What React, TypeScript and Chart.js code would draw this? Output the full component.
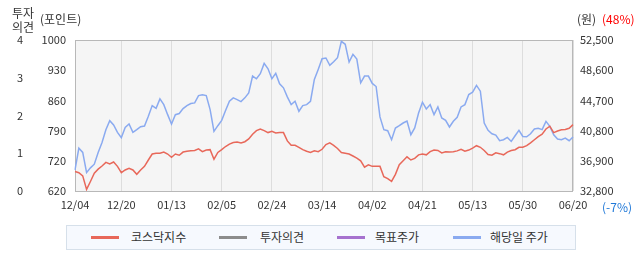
import React, { useEffect, useRef } from "react";
import { Chart, registerables } from "chart.js";

Chart.register(...registerables);

const dates = [
  "12/04","12/05","12/06","12/09","12/10","12/11","12/12","12/13","12/16","12/17","12/18","12/19","12/20",
  "12/23","12/24","12/26","12/27","12/30","01/02","01/03","01/06","01/07","01/08","01/09","01/10","01/13",
  "01/14","01/15","01/16","01/17","01/20","01/21","01/22","01/23","01/24","01/31","02/03","02/04","02/05",
  "02/06","02/07","02/10","02/11","02/12","02/13","02/14","02/17","02/18","02/19","02/20","02/21","02/24",
  "02/25","02/26","02/27","02/28","03/04","03/05","03/06","03/07","03/10","03/11","03/12","03/13","03/14",
  "03/17","03/18","03/19","03/20","03/21","03/24","03/25","03/26","03/27","03/28","03/31","04/01","04/02",
  "04/03","04/04","04/07","04/08","04/09","04/10","04/11","04/14","04/15","04/16","04/17","04/18","04/21",
  "04/22","04/23","04/24","04/25","04/28","04/29","04/30","05/02","05/07","05/08","05/09","05/12","05/13",
  "05/14","05/15","05/16","05/19","05/20","05/21","05/22","05/23","05/26","05/27","05/28","05/29","05/30",
  "06/02","06/04","06/05","06/09","06/10","06/11","06/12","06/13","06/16","06/17","06/18","06/19","06/20",
];

const kosdaq = [
  669,666,658,624,644,665,675,683,692,688,693,682,666,
  673,677,673,662,673,682,698,713,715,715,718,713,705,
  713,710,718,720,721,722,726,719,723,724,700,717,724,
  732,738,742,743,741,744,751,763,772,776,772,767,770,
  766,767,767,746,735,735,730,724,720,717,721,719,725,
  737,741,735,727,717,715,713,708,703,696,680,686,682,
  682,682,656,651,644,662,686,696,706,698,702,711,713,
  711,719,723,722,716,719,718,719,721,725,720,723,728,
  734,730,722,712,710,716,714,711,718,722,724,730,730,
  734,741,749,757,763,776,783,767,771,774,775,778,787,
];

const price = [
  35550,38390,37830,35200,35820,36300,37830,39140,40800,41980,41410,40450,39750,
  41100,41540,40450,40800,41190,41280,42550,43940,43590,44820,44070,42760,41540,
  42760,42900,43550,43940,44210,44290,45250,45340,45250,43420,40580,41320,42020,
  43290,44510,44950,44730,44470,44950,45600,47790,47440,48100,49450,48750,47440,
  48140,46780,46260,45080,44070,44510,43200,43940,44070,44510,47350,48660,50060,
  50150,49190,49670,50190,52330,51940,49620,50630,50020,46920,47790,47790,46830,
  46430,42460,40800,40670,39490,41020,41320,41670,41930,40140,41020,42980,44380,
  43510,44070,42760,43770,42330,42020,41150,41890,42410,43770,44070,45390,45690,
  46570,45820,41670,40710,40270,40100,39360,39490,39790,39270,40010,40710,39920,
  39880,40270,40890,40970,40800,41890,41230,40140,39570,39490,39700,39360,39840,
];

const gridDates = ["12/04","12/20","01/13","02/05","02/24","03/14","04/02","04/21","05/13","05/30","06/20"];
const opinionTicks = ["0","1","2","3","4"];
const kosdaqTicks = ["620","720","790","860","930","1000"];
const priceTicks = ["32,800","36,900","40,800","44,700","48,600","52,500"];
const legendLabels = ["코스닥지수","투자의견","목표주가","해당일 주가"];
const legendColors = ["#e8685a","#8c8c8c","#a672cf","#8aaaf0"];

const FONT = '"Noto Sans CJK KR", "Noto Sans", sans-serif';
const TICK_FONT = { family: FONT, size: 11 };
const TEXT = "#333333";

export default function App() {
  const ref = useRef<HTMLCanvasElement>(null);

  useEffect(() => {
    document.body.style.margin = "0";
    const gridIdx = gridDates.map((d) => dates.indexOf(d));
    const plotFrame = {
      id: "plotFrame",
      beforeDraw(chart: any) {
        const { ctx, chartArea: a } = chart;
        ctx.save();
        ctx.fillStyle = "#f5f5f5";
        ctx.fillRect(a.left, a.top, a.right - a.left, a.bottom - a.top);
        ctx.restore();
      },
      beforeDatasetsDraw(chart: any) {
        const { ctx, chartArea: a } = chart;
        ctx.save();
        ctx.strokeStyle = "#b8b8b8";
        ctx.lineWidth = 1;
        ctx.strokeRect(a.left + 0.5, a.top + 0.5, a.right - a.left - 1, a.bottom - a.top);
        ctx.restore();
      },
    };
    const evenTicks = (labels: string[]) => (s: any) => {
      const n = labels.length - 1;
      s.ticks = labels.map((_, i) => ({ value: s.min + (i * (s.max - s.min)) / n }));
    };
    const chart = new Chart(ref.current as HTMLCanvasElement, {
      type: "line",
      data: {
        labels: dates,
        datasets: [
          {
            label: legendLabels[0],
            data: kosdaq,
            yAxisID: "yK",
            borderColor: legendColors[0],
            borderWidth: 1.5,
            pointRadius: 0,
            tension: 0,
          },
          {
            label: legendLabels[3],
            data: price,
            yAxisID: "yP",
            borderColor: legendColors[3],
            borderWidth: 1.5,
            pointRadius: 0,
            tension: 0,
          },
        ],
      },
      options: {
        animation: false,
        responsive: false,
        devicePixelRatio: 1,
        layout: { padding: { top: 40, left: 0, right: 0, bottom: 0 } },
        plugins: { legend: { display: false }, tooltip: { enabled: false } },
        scales: {
          x: {
            type: "category",
            grid: { color: "#dddddd", drawTicks: false, lineWidth: 1 },
            border: { display: false },
            ticks: { autoSkip: false, maxRotation: 0, padding: 7, font: TICK_FONT, color: TEXT },
            afterBuildTicks: (s: any) => {
              s.ticks = gridIdx.map((v) => ({ value: v }));
            },
            afterFit: (s: any) => {
              s.height = 77;
            },
          },
          yOp: {
            type: "linear",
            position: "left",
            weight: 2,
            min: 0,
            max: 4,
            grid: { display: false, drawTicks: false },
            border: { display: false },
            ticks: {
              padding: 17,
              font: TICK_FONT,
              color: TEXT,
              callback: (_v: any, i: number) => opinionTicks[i],
            },
            afterBuildTicks: evenTicks(opinionTicks),
            afterFit: (s: any) => {
              s.width = 40;
            },
          },
          yK: {
            type: "linear",
            position: "left",
            weight: 1,
            min: 620,
            max: 1000,
            grid: { display: false, drawTicks: false },
            border: { display: false },
            ticks: {
              padding: 9,
              font: TICK_FONT,
              color: TEXT,
              callback: (_v: any, i: number) => kosdaqTicks[i],
            },
            afterBuildTicks: evenTicks(kosdaqTicks),
            afterFit: (s: any) => {
              s.width = 35;
            },
          },
          yP: {
            type: "linear",
            position: "right",
            min: 32800,
            max: 52500,
            grid: { display: false, drawTicks: false },
            border: { display: false },
            ticks: {
              padding: 7,
              font: TICK_FONT,
              color: TEXT,
              callback: (_v: any, i: number) => priceTicks[i],
            },
            afterBuildTicks: evenTicks(priceTicks),
            afterFit: (s: any) => {
              s.width = 69;
            },
          },
        },
      } as any,
      plugins: [plotFrame],
    });
    return () => chart.destroy();
  }, []);

  const abs = (left: number, top: number, extra: any = {}) => ({
    position: "absolute" as const,
    left,
    top,
    fontFamily: FONT,
    fontSize: 12,
    lineHeight: "14px",
    color: TEXT,
    whiteSpace: "nowrap" as const,
    ...extra,
  });

  const legendLineX = [24, 152, 270, 386];
  const legendTextX = [64, 193, 308, 423];

  return (
    <div style={{ position: "fixed", left: 0, top: 0, width: 642, height: 268, background: "#fff" }}>
      <canvas ref={ref} width={642} height={268} style={{ position: "absolute", left: 0, top: 0 }} />
      <div style={abs(12, 6)}>투자<br />의견</div>
      <div style={abs(40, 12)}>(포인트)</div>
      <div style={abs(577, 12)}>(원)</div>
      <div style={abs(602, 12, { color: "#ff0000" })}>(48%)</div>
      <div style={abs(602, 200, { color: "#1f78d8" })}>(-7%)</div>
      <div
        style={{
          position: "absolute",
          left: 66,
          top: 225,
          width: 510,
          height: 25,
          boxSizing: "border-box",
          border: "1px solid #d6e0ea",
          background: "#f6f9fe",
        }}
      >
        {legendLabels.map((lab, i) => (
          <React.Fragment key={lab}>
            <div
              style={{
                position: "absolute",
                left: legendLineX[i],
                top: 10,
                width: 28,
                height: 3,
                background: legendColors[i],
              }}
            />
            <div style={abs(legendTextX[i], 4)}>{lab}</div>
          </React.Fragment>
        ))}
      </div>
    </div>
  );
}
